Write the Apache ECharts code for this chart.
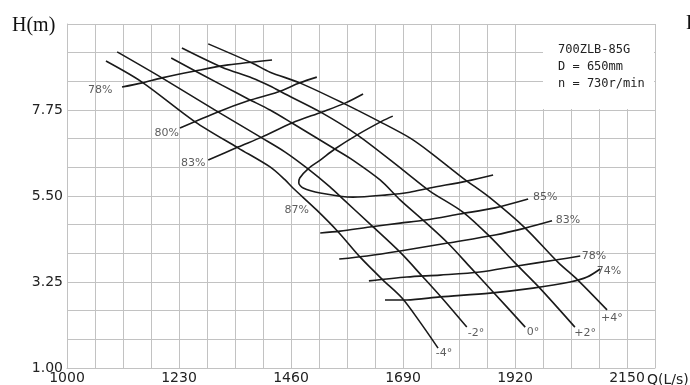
<!DOCTYPE html>
<html><head><meta charset="utf-8">
<script src="https://cdn.jsdelivr.net/npm/echarts@6/dist/echarts.min.js"></script>
<style>html,body{margin:0;padding:0;background:#fff}#c{width:690px;height:385px}</style>
</head><body><div id="c"></div>
<script>
// Axis grid and labels
const qGrid = [1000,1057.5,1115,1172.5,1230,1287.5,1345,1402.5,1460,1517.5,1575,1632.5,1690,1747.5,1805,1862.5,1920,1977.5,2035,2092.5,2150,2207.5];
const qLabels = [1000,1230,1460,1690,1920,2150];
const hGrid = [1,1.75,2.5,3.25,4,4.75,5.5,6.25,7,7.75,8.5,9.25,10];
const hLabels = [1,3.25,5.5,7.75];

// Blade angle curves (Q in L/s, H in m)
const bladeM4Q = [1080,1154,1263,1351,1417,1448,1464,1513,1557,1602,1649,1688,1725,1762];
const bladeM4H = [9.03,8.48,7.44,6.76,6.26,5.92,5.71,5.13,4.56,3.90,3.30,2.83,2.20,1.52];
const bladeM2Q = [1103,1195,1310,1400,1448,1495,1540,1567,1622,1684,1731,1770,1821];
const bladeM2H = [9.27,8.59,7.70,7.02,6.65,6.21,5.74,5.42,4.77,4.03,3.38,2.83,2.07];
const blade0Q  = [1214,1318,1372,1417,1462,1550,1587,1643,1684,1731,1782,1828,1875,1941];
const blade0H  = [9.11,8.40,8.04,7.75,7.41,6.73,6.44,5.92,5.40,4.87,4.27,3.64,2.99,2.07];
const bladeP2Q = [1236,1318,1380,1417,1448,1520,1596,1690,1745,1813,1869,1920,1971,2043];
const bladeP2H = [9.37,8.87,8.59,8.38,8.17,7.70,7.10,6.18,5.63,5.08,4.43,3.75,3.09,2.07];
const bladeP4Q = [1290,1380,1417,1478,1567,1643,1704,1745,1813,1869,1941,2008,2049,2109];
const bladeP4H = [9.48,8.98,8.74,8.46,7.93,7.44,7.02,6.65,5.97,5.45,4.66,3.77,3.30,2.52];

// Efficiency curves
const eff78aQ = [1113,1154,1195,1263,1331,1421];
const eff78aH = [8.35,8.46,8.59,8.77,8.93,9.06];
const eff80Q  = [1232,1310,1372,1433,1478,1513];
const eff80H  = [7.28,7.70,7.99,8.22,8.46,8.61];
const eff83aQ = [1290,1351,1400,1462,1524,1571,1608];
const eff83aH = [6.44,6.78,7.04,7.41,7.70,7.93,8.17];
const eff87Q  = [1669,1647,1596,1550,1520,1495,1478,1476,1485,1520,1587,1657,1704,1745,1821,1875];
const eff87H  = [7.59,7.46,7.10,6.73,6.44,6.21,5.97,5.84,5.71,5.58,5.47,5.53,5.60,5.71,5.89,6.05];
const eff85Q  = [1520,1561,1622,1684,1735,1807,1879,1947];
const eff85H  = [4.53,4.58,4.69,4.79,4.87,5.03,5.19,5.42];
const eff83bQ = [1559,1616,1684,1782,1879,1941,1996];
const eff83bH = [3.85,3.93,4.06,4.27,4.48,4.66,4.85];
const eff78bQ = [1620,1698,1766,1848,1924,2006,2054];
const eff78bH = [3.28,3.38,3.43,3.51,3.67,3.83,3.93];
const eff74Q  = [1653,1698,1766,1869,1957,2033,2068,2095];
const eff74H  = [2.78,2.78,2.86,2.96,3.09,3.25,3.38,3.59];

// Curve labels (text, Q, H)
const labelText = ['78%','80%','83%','87%','85%','83%','78%','74%','-4°','-2°','0°','+2°','+4°'];
const labelQ    = [1068,1205,1259,1472,1982,2029,2082,2113,1774,1840,1957,2064,2119];
const labelH    = [8.27,7.15,6.36,5.13,5.47,4.87,3.93,3.54,1.39,1.92,1.94,1.92,2.31];

const curves = [
  [bladeM4Q,bladeM4H],[bladeM2Q,bladeM2H],[blade0Q,blade0H],[bladeP2Q,bladeP2H],[bladeP4Q,bladeP4H],
  [eff78aQ,eff78aH],[eff80Q,eff80H],[eff83aQ,eff83aH],[eff87Q,eff87H],
  [eff85Q,eff85H],[eff83bQ,eff83bH],[eff78bQ,eff78bH],[eff74Q,eff74H]
];

const gridColor = '#c2c2c2';
const series = curves.map(([q,h]) => ({
  type: 'line',
  data: q.map((v,i) => [v, h[i]]),
  showSymbol: false,
  smooth: 0.3,
  silent: true,
  lineStyle: { color: '#1a1a1a', width: 1.6 },
  z: 3
}));
series.push({
  type: 'scatter',
  silent: true,
  symbolSize: 1,
  itemStyle: { color: 'rgba(0,0,0,0)' },
  label: {
    show: true, position: 'inside', formatter: p => p.name,
    color: '#333', fontSize: 11, fontFamily: 'DejaVu Sans'
  },
  data: labelText.map((t,i) => ({ name: t, value: [labelQ[i], labelH[i]] })),
  z: 4
});

const chart = echarts.init(document.getElementById('c'), null, { renderer: 'canvas' });
chart.setOption({
  animation: false,
  backgroundColor: '#fff',
  grid: { left: 67, right: 35, top: 24, bottom: 17, containLabel: false },
  xAxis: {
    type: 'value', min: 1000, max: 2207.5,
    axisLine: { show: true, lineStyle: { color: gridColor, width: 1 } },
    axisTick: { show: false, customValues: qGrid },
    axisLabel: {
      customValues: qLabels, margin: 3, color: '#222', fontSize: 14,
      fontFamily: 'DejaVu Sans', formatter: v => String(v)
    },
    splitLine: { show: true, lineStyle: { color: gridColor, width: 1 } }
  },
  yAxis: {
    type: 'value', min: 1, max: 10,
    axisLine: { show: true, lineStyle: { color: gridColor, width: 1 } },
    axisTick: { show: false, customValues: hGrid },
    axisLabel: {
      customValues: hLabels, margin: 4, color: '#222', fontSize: 14,
      fontFamily: 'DejaVu Sans', formatter: v => v.toFixed(2)
    },
    splitLine: { show: true, lineStyle: { color: gridColor, width: 1 } }
  },
  graphic: [
    { type: 'rect', z: 1, shape: { x: 543, y: 25, width: 111, height: 84 }, style: { fill: '#fff' } },
    { type: 'line', z: 2, shape: { x1: 540, y1: 24.5, x2: 655.5, y2: 24.5 }, style: { stroke: gridColor, lineWidth: 1 } },
    { type: 'line', z: 2, shape: { x1: 655.5, y1: 24, x2: 655.5, y2: 112 }, style: { stroke: gridColor, lineWidth: 1 } },
    { type: 'text', z: 5, style: { text: '700ZLB-85G', x: 558, y: 50, verticalAlign: 'middle', font: '12px "DejaVu Sans Mono"', fill: '#222' } },
    { type: 'text', z: 5, style: { text: 'D = 650mm', x: 558, y: 67, verticalAlign: 'middle', font: '12px "DejaVu Sans Mono"', fill: '#222' } },
    { type: 'text', z: 5, style: { text: 'n = 730r/min', x: 558, y: 84, verticalAlign: 'middle', font: '12px "DejaVu Sans Mono"', fill: '#222' } },
    { type: 'text', z: 5, style: { text: 'H(m)', x: 12, y: 26, verticalAlign: 'middle', font: '20px "Liberation Serif"', fill: '#111' } },
    { type: 'text', z: 5, style: { text: 'P', x: 686, y: 24, verticalAlign: 'middle', font: '20px "Liberation Serif"', fill: '#111' } },
    { type: 'text', z: 5, style: { text: 'Q(L/s)', x: 647, y: 380, verticalAlign: 'middle', font: '14px "DejaVu Sans"', fill: '#222' } }
  ],
  series: series
});
</script></body></html>
